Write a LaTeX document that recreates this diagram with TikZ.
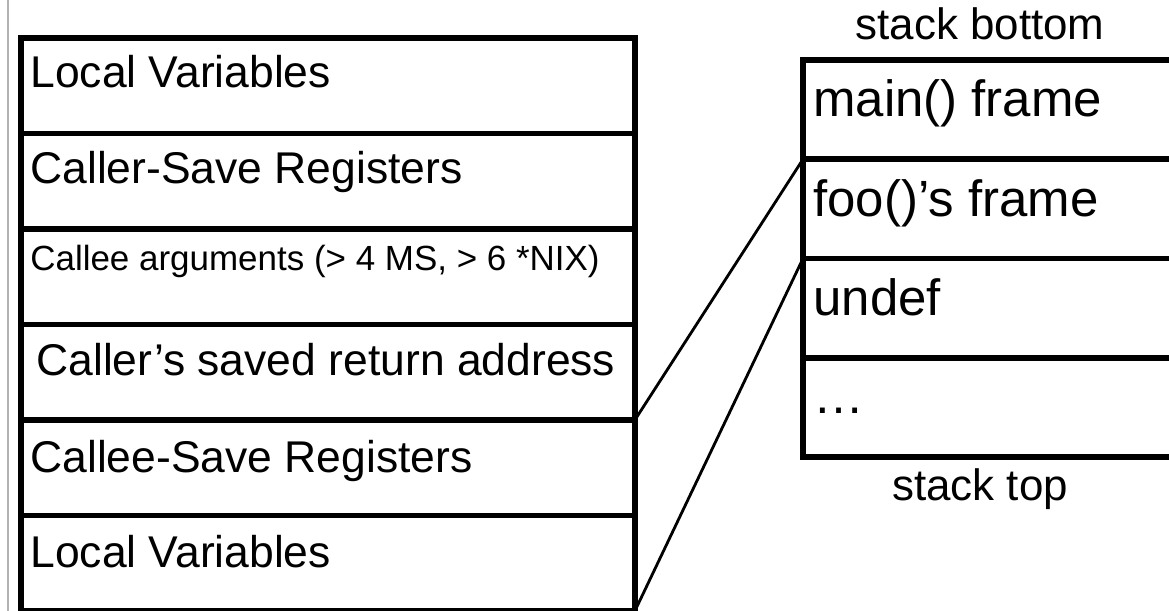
\documentclass[tikz,border=0pt]{standalone}
\usepackage{fontspec}
\setmainfont{Liberation Sans}

\tikzset{
    lcell/.style={draw, line width=3pt, inner sep=0pt, outer sep=0pt, anchor=north west,
        minimum width=12.28cm, minimum height=1.91cm},
    rcell/.style={draw, line width=3.2pt, inner sep=0pt, outer sep=0pt, anchor=north west,
        minimum width=8cm, minimum height=1.985cm},
    lbl/.style={anchor=base west, inner sep=0pt, font=\fontsize{25.3}{30}\selectfont},
    smalllbl/.style={lbl, font=\fontsize{19.9}{24}\selectfont},
    biglbl/.style={lbl, font=\fontsize{29}{35}\selectfont},
    caption/.style={anchor=base, inner sep=0pt, font=\fontsize{25}{30}\selectfont},
    link/.style={line width=1.6pt}
}

\begin{document}
\begin{tikzpicture}[x=0.02cm, y=-0.02cm]
    \useasboundingbox (0,0) rectangle (1169,611);
    % Page edge on the left
    \coordinate (edgetop) at (8,0);
    \coordinate (edgebot) at (8,611);
    \draw[gray!60, line width=1.1pt] (edgetop) -- (edgebot);
    % Frame layout
    \node[lcell] (lv1) at (21, 38) {};
    \node[lcell] (crs) at (21, 133.5) {};
    \node[lcell] (cea) at (21, 229) {};
    \node[lcell] (ret) at (21, 324.5) {};
    \node[lcell] (ces) at (21, 420) {};
    \node[lcell] (lv2) at (21, 515.5) {};
    \node[lbl] (lv1t) at (30, 88) {Local Variables};
    \node[lbl] (crst) at (30, 184) {Caller-Save Registers};
    \node[smalllbl] (ceat) at (30, 270) {Callee arguments (> 4 MS, > 6 *NIX)};
    \node[lbl] (rett) at (36, 375) {Caller’s saved return address};
    \node[lbl] (cest) at (30, 472) {Callee-Save Registers};
    \node[lbl] (lv2t) at (30, 567) {Local Variables};
    % Call stack
    \node[caption] (sbot) at (980, 40) {stack bottom};
    \node[rcell] (mf) at (803, 60) {};
    \node[rcell] (ff) at (803, 159.25) {};
    \node[rcell] (ud) at (803, 258.5) {};
    \node[rcell] (more) at (803, 357.75) {};
    \node[caption] (stop) at (980, 500) {stack top};
    \node[biglbl] (mft) at (813, 117) {main() frame};
    \node[biglbl] (fft) at (813, 216) {foo()’s frame};
    \node[biglbl] (udt) at (813, 315) {undef};
    \node[biglbl] (moret) at (813, 413) {…};
    % foo()'s frame spans these slots
    \draw[link] (ret.south east) -- (mf.south west);
    \draw[link] (lv2.south east) -- (ff.south west);
\end{tikzpicture}
\end{document}
